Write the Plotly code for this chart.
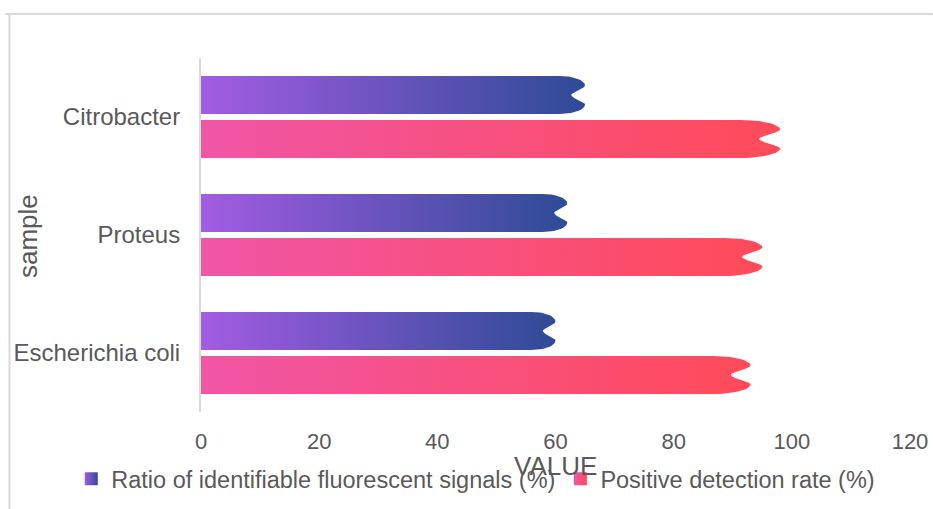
import numpy as np
import plotly.graph_objects as go

categories = ["Escherichia coli", "Proteus", "Citrobacter"]
series_names = ["Ratio of identifiable fluorescent signals (%)", "Positive detection rate (%)"]
ratio_values = [60, 62, 65]
positive_values = [93, 95, 98]
x_ticks = [0, 20, 40, 60, 80, 100, 120]

purple_scale = [[0, "#a35ce3"], [1, "#2e4b96"]]
pink_scale = [[0, "#f056a6"], [1, "#ff4a58"]]
series_scales = [purple_scale, pink_scale]
series_values = [ratio_values, positive_values]

BAR_H = 0.322
GAP = 0.051
FONT = "Liberation Sans, Arial, sans-serif"
GREY = "#595959"


def bar_outline(v, y0, y1):
    h = y1 - y0
    a = 0.068 * v
    d = 0.036 * v
    s = v - a
    xs = [0.0, 0.0, s]
    ys = [y0, y1, y1]
    th = np.linspace(0, np.pi / 2, 14)[1:]
    xs += list(s + a * np.sin(th))
    ys += list(y1 - 0.25 * h * (1 - np.cos(th)))
    u = np.linspace(0, 1, 10)[1:]
    xs += list(v - d * (1 - np.cos(np.pi * u)) / 2)
    ys += list(y1 - h * (0.25 + 0.25 * u))
    xs += list(v - d * (1 + np.cos(np.pi * u)) / 2)
    ys += list(y1 - h * (0.5 + 0.25 * u))
    th2 = np.linspace(np.pi / 2, 0, 14)[1:]
    xs += list(s + a * np.sin(th2))
    ys += list(y0 + 0.25 * h * (1 - np.cos(th2)))
    xs.append(0.0)
    ys.append(y0)
    return xs, ys


fig = go.Figure()

for si, (name, vals, scale) in enumerate(zip(series_names, series_values, series_scales)):
    for ci, v in enumerate(vals):
        if si == 0:
            y0, y1 = ci + GAP / 2, ci + GAP / 2 + BAR_H
        else:
            y0, y1 = ci - GAP / 2 - BAR_H, ci - GAP / 2
        xs, ys = bar_outline(v, y0, y1)
        fig.add_trace(go.Scatter(
            x=xs, y=ys, mode="lines", fill="toself",
            line=dict(width=0, color=scale[1][1]),
            fillgradient=dict(type="horizontal", colorscale=scale),
            name=name, legendgroup=name, showlegend=False,
            hoveron="fills", text=f"{categories[ci]}: {v}", hoverinfo="text",
        ))

for name, scale in zip(series_names, series_scales):
    fig.add_trace(go.Scatter(
        x=[None], y=[None], mode="markers", name=name, legendgroup=name,
        marker=dict(symbol="square", size=13, color=scale[0][1],
                    gradient=dict(type="horizontal", color=scale[1][1]),
                    line=dict(width=0)),
    ))

fig.update_layout(
    width=933, height=509,
    margin=dict(l=201, r=23, t=58, b=97, autoexpand=False),
    paper_bgcolor="white", plot_bgcolor="white",
    font=dict(family=FONT, color=GREY),
    showlegend=True,
    legend=dict(orientation="h", x=-0.183, xanchor="left", y=-0.127, yanchor="top",
                font=dict(size=23.5, color=GREY, family=FONT),
                bgcolor="rgba(0,0,0,0)", itemclick=False, itemdoubleclick=False),
    xaxis=dict(range=[0, 120], tickvals=x_ticks, ticktext=[str(t) for t in x_ticks],
               showgrid=False, zeroline=False, showline=False, automargin=False,
               ticks="outside", ticklen=10, tickcolor="rgba(0,0,0,0)",
               tickfont=dict(size=22, color=GREY, family=FONT), fixedrange=True),
    yaxis=dict(range=[-0.5, 2.5], tickvals=[0, 1, 2], ticktext=categories,
               showgrid=False, zeroline=False, showline=True, linecolor="#d9d9d9", linewidth=2,
               automargin=False,
               ticks="outside", ticklen=14, tickcolor="rgba(0,0,0,0)",
               tickfont=dict(size=24, color=GREY, family=FONT), fixedrange=True),
    annotations=[
        dict(text="VALUE", xref="paper", yref="paper", x=0.5, y=-0.1525,
             xanchor="center", yanchor="middle", showarrow=False,
             font=dict(size=26, color=GREY, family=FONT)),
        dict(text="sample", xref="paper", yref="paper", x=-0.244, y=0.497,
             xanchor="center", yanchor="middle", textangle=-90, showarrow=False,
             font=dict(size=26, color=GREY, family=FONT)),
    ],
    shapes=[
        dict(type="line", xref="paper", yref="paper", x0=-0.2764, x1=1.0324,
             y0=1.1243, y1=1.1243, line=dict(color="#d9d9d9", width=2)),
        dict(type="line", xref="paper", yref="paper", x0=-0.2701, x1=-0.2701,
             y0=1.1243, y1=-0.28, line=dict(color="#d9d9d9", width=2)),
    ],
)

fig.write_html("out.html", config={"displayModeBar": False},
               post_script="document.body.style.margin='0';")
